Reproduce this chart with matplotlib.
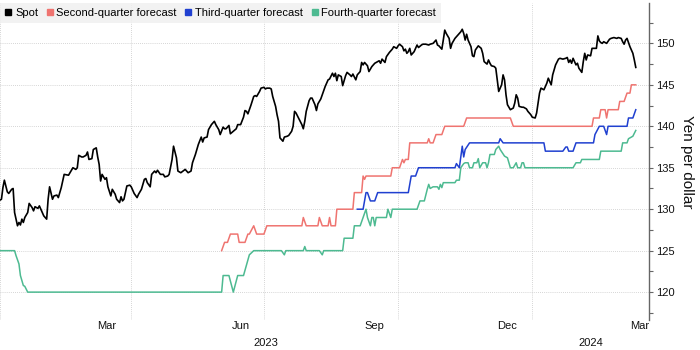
import matplotlib
matplotlib.use("Agg")
import matplotlib.pyplot as plt
import matplotlib.dates as mdates
import matplotlib.transforms as mtransforms
from matplotlib.lines import Line2D
from matplotlib.ticker import MultipleLocator, NullFormatter
import pandas as pd

# ---- USD/JPY spot rate ----
spot_dates = [
    "2023-01-01", "2023-01-02", "2023-01-03", "2023-01-04", "2023-01-06", "2023-01-07", "2023-01-09",
    "2023-01-10", "2023-01-11", "2023-01-13", "2023-01-14", "2023-01-15", "2023-01-16", "2023-01-17",
    "2023-01-18", "2023-01-20", "2023-01-21", "2023-01-23", "2023-01-24", "2023-01-25", "2023-01-27",
    "2023-01-28", "2023-01-29", "2023-01-31", "2023-02-02", "2023-02-03", "2023-02-04", "2023-02-06",
    "2023-02-07", "2023-02-09", "2023-02-10", "2023-02-12", "2023-02-14", "2023-02-17", "2023-02-18",
    "2023-02-20", "2023-02-22", "2023-02-23", "2023-02-24", "2023-02-26", "2023-02-27", "2023-03-01",
    "2023-03-02", "2023-03-03", "2023-03-05", "2023-03-06", "2023-03-08", "2023-03-09", "2023-03-10",
    "2023-03-11", "2023-03-12", "2023-03-14", "2023-03-15", "2023-03-16", "2023-03-18", "2023-03-19",
    "2023-03-21", "2023-03-22", "2023-03-24", "2023-03-25", "2023-03-26", "2023-03-27", "2023-03-29",
    "2023-03-31", "2023-04-01", "2023-04-03", "2023-04-05", "2023-04-06", "2023-04-08", "2023-04-10",
    "2023-04-11", "2023-04-12", "2023-04-14", "2023-04-15", "2023-04-17", "2023-04-18", "2023-04-19",
    "2023-04-21", "2023-04-23", "2023-04-24", "2023-04-26", "2023-04-27", "2023-04-29", "2023-04-30",
    "2023-05-02", "2023-05-03", "2023-05-05", "2023-05-08", "2023-05-10", "2023-05-12", "2023-05-13",
    "2023-05-15", "2023-05-17", "2023-05-19", "2023-05-20", "2023-05-21", "2023-05-23", "2023-05-24",
    "2023-05-26", "2023-05-28", "2023-05-29", "2023-05-31", "2023-06-01", "2023-06-03", "2023-06-04",
    "2023-06-05", "2023-06-07", "2023-06-08", "2023-06-10", "2023-06-12", "2023-06-13", "2023-06-15",
    "2023-06-17", "2023-06-18", "2023-06-19", "2023-06-20", "2023-06-22", "2023-06-24", "2023-06-25",
    "2023-06-26", "2023-06-28", "2023-06-29", "2023-07-01", "2023-07-02", "2023-07-03", "2023-07-05",
    "2023-07-06", "2023-07-07", "2023-07-09", "2023-07-10", "2023-07-11", "2023-07-12", "2023-07-14",
    "2023-07-15", "2023-07-17", "2023-07-18", "2023-07-20", "2023-07-21", "2023-07-22", "2023-07-23",
    "2023-07-25", "2023-07-27", "2023-07-28", "2023-07-29", "2023-07-30", "2023-08-01", "2023-08-02",
    "2023-08-03", "2023-08-05", "2023-08-06", "2023-08-07", "2023-08-09", "2023-08-11", "2023-08-12",
    "2023-08-14", "2023-08-15", "2023-08-17", "2023-08-18", "2023-08-19", "2023-08-20", "2023-08-21",
    "2023-08-23", "2023-08-24", "2023-08-26", "2023-08-27", "2023-08-29", "2023-08-30", "2023-08-31",
    "2023-09-02", "2023-09-03", "2023-09-05", "2023-09-06", "2023-09-07", "2023-09-08", "2023-09-10",
    "2023-09-11", "2023-09-13", "2023-09-15", "2023-09-16", "2023-09-18", "2023-09-19", "2023-09-20",
    "2023-09-22", "2023-09-23", "2023-09-25", "2023-09-27", "2023-09-28", "2023-09-30", "2023-10-01",
    "2023-10-02", "2023-10-04", "2023-10-05", "2023-10-06", "2023-10-07", "2023-10-08", "2023-10-09",
    "2023-10-10", "2023-10-12", "2023-10-14", "2023-10-15", "2023-10-17", "2023-10-18", "2023-10-20",
    "2023-10-22", "2023-10-23", "2023-10-25", "2023-10-27", "2023-10-28", "2023-10-29", "2023-10-31",
    "2023-11-01", "2023-11-02", "2023-11-03", "2023-11-05", "2023-11-06", "2023-11-07", "2023-11-09",
    "2023-11-11", "2023-11-13", "2023-11-14", "2023-11-15", "2023-11-16", "2023-11-17", "2023-11-18",
    "2023-11-20", "2023-11-21", "2023-11-22", "2023-11-23", "2023-11-25", "2023-11-27", "2023-11-28",
    "2023-11-29", "2023-12-01", "2023-12-02", "2023-12-03", "2023-12-04", "2023-12-06", "2023-12-07",
    "2023-12-08", "2023-12-09", "2023-12-11", "2023-12-12", "2023-12-13", "2023-12-14", "2023-12-15",
    "2023-12-17", "2023-12-19", "2023-12-20", "2023-12-21", "2023-12-22", "2023-12-23", "2023-12-25",
    "2023-12-26", "2023-12-28", "2023-12-29", "2023-12-31", "2024-01-01", "2024-01-03", "2024-01-04",
    "2024-01-05", "2024-01-06", "2024-01-07", "2024-01-08", "2024-01-09", "2024-01-11", "2024-01-12",
    "2024-01-13", "2024-01-14", "2024-01-15", "2024-01-17", "2024-01-19", "2024-01-20", "2024-01-22",
    "2024-01-24", "2024-01-25", "2024-01-26", "2024-01-27", "2024-01-28", "2024-01-29", "2024-01-31",
    "2024-02-01", "2024-02-02", "2024-02-04", "2024-02-05", "2024-02-06", "2024-02-07", "2024-02-08",
    "2024-02-10", "2024-02-11", "2024-02-12", "2024-02-14", "2024-02-15", "2024-02-16", "2024-02-17",
    "2024-02-18", "2024-02-19", "2024-02-21", "2024-02-23", "2024-02-24", "2024-02-26", "2024-02-28",
    "2024-02-29", "2024-03-02", "2024-03-03", "2024-03-04", "2024-03-05", "2024-03-06", "2024-03-07",
    "2024-03-08", "2024-03-10", "2024-03-11", "2024-03-12",
]
spot_values = [
    131.1, 131.2, 132.6, 133.5, 132.1, 131.9, 132.4,
    132.5, 129.6, 128.0, 128.4, 128.1, 128.8, 128.4,
    129.0, 129.6, 130.7, 130.2, 129.8, 130.3, 130.1,
    130.4, 130.0, 129.2, 128.8, 131.2, 132.7, 131.2,
    131.6, 131.7, 131.4, 132.6, 134.2, 134.1, 134.4,
    135.0, 134.8, 135.0, 136.5, 136.3, 136.3, 136.5,
    136.9, 136.0, 136.1, 137.2, 137.4, 136.3, 135.4,
    133.4, 134.2, 133.6, 133.8, 132.7, 131.6, 132.4,
    131.8, 131.2, 130.8, 131.5, 131.0, 131.2, 132.8,
    132.9, 132.7, 131.9, 131.4, 131.8, 132.4, 133.6,
    133.7, 133.2, 132.7, 134.2, 134.6, 134.4, 134.7,
    134.2, 134.2, 133.9, 134.0, 134.2, 136.0, 137.6,
    136.2, 134.6, 134.4, 134.8, 134.4, 134.6, 135.6,
    136.6, 137.8, 138.7, 138.1, 138.6, 138.7, 139.6,
    140.2, 140.6, 140.2, 139.6, 139.0, 139.9, 139.7,
    139.7, 140.1, 139.1, 139.4, 139.7, 140.2, 140.2,
    141.1, 141.9, 141.8, 141.5, 142.5, 143.6, 143.7,
    143.6, 144.2, 144.6, 144.7, 144.5, 144.6, 144.6,
    144.5, 143.6, 142.4, 141.4, 140.6, 138.6, 138.2,
    138.7, 138.8, 138.9, 139.4, 140.0, 141.8, 141.6,
    140.9, 140.2, 139.7, 140.6, 141.8, 143.1, 143.4,
    143.4, 142.6, 141.9, 142.7, 143.3, 144.3, 144.8,
    145.6, 145.7, 146.4, 146.0, 146.4, 145.5, 146.2,
    146.0, 144.9, 146.1, 146.5, 146.2, 146.0, 146.3,
    145.6, 146.2, 146.6, 147.7, 147.4, 147.7, 147.3,
    146.6, 147.2, 147.6, 147.7, 147.9, 147.6, 148.1,
    147.7, 148.4, 148.9, 149.3, 149.6, 149.4, 149.7,
    149.9, 149.6, 149.1, 149.3, 148.8, 149.0, 149.4,
    148.6, 149.0, 149.8, 149.5, 149.8, 149.9, 149.9,
    149.8, 149.9, 150.0, 150.4, 149.8, 149.7, 149.3,
    150.4, 151.6, 151.2, 150.6, 149.4, 150.0, 150.6,
    151.0, 151.4, 151.7, 151.2, 150.4, 151.1, 150.4,
    149.6, 148.5, 148.4, 149.2, 149.7, 149.4, 148.8,
    147.8, 147.5, 148.0, 147.6, 147.3, 147.2, 147.0,
    145.6, 144.2, 145.0, 146.2, 145.6, 143.8, 142.6,
    142.0, 142.2, 142.8, 143.8, 143.4, 142.4, 142.3,
    142.3, 142.1, 141.8, 141.4, 141.1, 141.0, 141.6,
    142.8, 144.0, 144.6, 144.5, 144.4, 145.2, 145.8,
    145.4, 145.0, 146.2, 147.4, 148.1, 148.2, 148.1,
    148.2, 148.3, 147.7, 148.0, 147.6, 148.2, 147.4,
    147.6, 147.0, 146.5, 147.8, 148.8, 148.0, 148.6,
    148.5, 149.4, 149.4, 149.4, 150.9, 150.3, 150.1,
    150.0, 150.2, 150.0, 150.5, 150.6, 150.7, 150.6,
    150.7, 150.6, 150.2, 149.9, 150.4, 150.6, 150.1,
    149.6, 148.8, 148.0, 147.1,
]

# ---- Consensus forecast for the second quarter ----
q2_dates = [
    "2023-06-02", "2023-06-04", "2023-06-06", "2023-06-08", "2023-06-13", "2023-06-14", "2023-06-18",
    "2023-06-20", "2023-06-21", "2023-06-24", "2023-06-25", "2023-06-26", "2023-07-01", "2023-07-03",
    "2023-07-27", "2023-07-28", "2023-07-30", "2023-08-07", "2023-08-08", "2023-08-10", "2023-08-14",
    "2023-08-15", "2023-08-16", "2023-08-19", "2023-08-20", "2023-08-31", "2023-09-01", "2023-09-06",
    "2023-09-07", "2023-09-08", "2023-09-09", "2023-09-26", "2023-09-27", "2023-10-02", "2023-10-04",
    "2023-10-05", "2023-10-06", "2023-10-08", "2023-10-09", "2023-10-21", "2023-10-22", "2023-10-23",
    "2023-10-25", "2023-10-27", "2023-10-31", "2023-11-02", "2023-11-15", "2023-11-17", "2023-12-17",
    "2023-12-19", "2024-02-11", "2024-02-12", "2024-02-16", "2024-02-17", "2024-02-20", "2024-02-21",
    "2024-02-22", "2024-02-29", "2024-03-01", "2024-03-04", "2024-03-06", "2024-03-08", "2024-03-09",
    "2024-03-12",
]
q2_values = [
    125.0, 126.0, 126.0, 127.0, 127.0, 126.0, 126.0,
    127.0, 127.0, 128.0, 127.5, 127.0, 127.0, 128.0,
    128.0, 129.0, 128.0, 128.0, 129.0, 128.0, 128.0,
    129.0, 128.0, 128.0, 130.0, 130.0, 132.0, 132.0,
    134.0, 133.6, 134.0, 134.0, 135.0, 135.0, 136.0,
    135.6, 136.0, 136.0, 138.0, 138.0, 138.5, 138.0,
    138.0, 139.0, 139.0, 140.0, 140.0, 141.0, 141.0,
    140.0, 140.0, 141.0, 141.0, 142.0, 142.0, 141.0,
    142.0, 142.0, 143.0, 143.0, 144.0, 144.0, 145.0,
    145.0,
]

# ---- Consensus forecast for the third quarter ----
q3_dates = [
    "2023-09-03", "2023-09-07", "2023-09-09", "2023-09-10", "2023-09-12", "2023-09-15", "2023-09-17",
    "2023-10-08", "2023-10-10", "2023-10-13", "2023-10-15", "2023-11-09", "2023-11-10", "2023-11-12",
    "2023-11-14", "2023-11-15", "2023-11-16", "2023-11-19", "2023-12-09", "2023-12-10", "2023-12-12",
    "2024-01-09", "2024-01-10", "2024-01-22", "2024-01-24", "2024-01-25", "2024-01-26", "2024-01-29",
    "2024-01-31", "2024-02-12", "2024-02-13", "2024-02-16", "2024-02-19", "2024-02-21", "2024-02-22",
    "2024-03-06", "2024-03-07", "2024-03-10", "2024-03-12",
]
q3_values = [
    130.0, 130.0, 132.0, 132.0, 131.0, 131.0, 132.0,
    132.0, 134.0, 134.0, 135.0, 135.0, 135.5, 135.0,
    137.6, 136.3, 137.2, 138.0, 138.0, 138.5, 138.0,
    138.0, 137.0, 137.0, 137.5, 137.5, 137.0, 137.0,
    138.0, 138.0, 139.0, 140.0, 140.0, 139.0, 140.0,
    140.0, 141.0, 141.0, 142.0,
]

# ---- Consensus forecast for the fourth quarter ----
q4_dates = [
    "2023-01-01", "2023-01-11", "2023-01-12", "2023-01-14", "2023-01-15", "2023-01-17", "2023-01-18",
    "2023-01-20", "2023-06-02", "2023-06-03", "2023-06-07", "2023-06-10", "2023-06-13", "2023-06-17",
    "2023-06-21", "2023-06-24", "2023-07-13", "2023-07-15", "2023-07-16", "2023-07-28", "2023-07-29",
    "2023-07-30", "2023-08-08", "2023-08-10", "2023-08-11", "2023-08-24", "2023-08-25", "2023-08-31",
    "2023-09-01", "2023-09-05", "2023-09-07", "2023-09-09", "2023-09-10", "2023-09-12", "2023-09-13",
    "2023-09-14", "2023-09-15", "2023-09-16", "2023-09-23", "2023-09-24", "2023-09-26", "2023-09-27",
    "2023-10-14", "2023-10-16", "2023-10-19", "2023-10-21", "2023-10-22", "2023-10-23", "2023-10-25",
    "2023-10-28", "2023-10-29", "2023-10-30", "2023-10-31", "2023-11-01", "2023-11-09", "2023-11-10",
    "2023-11-12", "2023-11-13", "2023-11-15", "2023-11-16", "2023-11-18", "2023-11-19", "2023-11-21",
    "2023-11-22", "2023-11-24", "2023-11-25", "2023-11-26", "2023-11-28", "2023-11-30", "2023-12-01",
    "2023-12-02", "2023-12-03", "2023-12-06", "2023-12-07", "2023-12-09", "2023-12-10", "2023-12-13",
    "2023-12-15", "2023-12-16", "2023-12-17", "2023-12-19", "2023-12-21", "2023-12-22", "2023-12-24",
    "2023-12-25", "2023-12-26", "2023-12-27", "2024-01-29", "2024-01-31", "2024-02-03", "2024-02-04",
    "2024-02-16", "2024-02-17", "2024-03-02", "2024-03-03", "2024-03-06", "2024-03-07", "2024-03-10",
    "2024-03-12",
]
q4_values = [
    125.0, 125.0, 124.4, 123.4, 122.0, 120.8, 120.7,
    120.0, 120.0, 122.0, 122.0, 120.0, 122.0, 122.0,
    124.5, 125.0, 125.0, 124.5, 125.0, 125.0, 125.5,
    125.0, 125.0, 124.5, 125.0, 125.0, 126.5, 126.5,
    128.0, 128.0, 129.0, 130.0, 129.0, 128.0, 129.0,
    129.0, 128.0, 129.0, 129.0, 130.0, 129.0, 130.0,
    130.0, 131.0, 131.0, 132.4, 133.0, 132.5, 132.7,
    132.7, 132.4, 133.0, 132.6, 133.2, 133.2, 133.5,
    133.5, 135.0, 135.5, 135.6, 135.6, 135.0, 135.0,
    135.6, 135.6, 136.1, 135.0, 135.6, 135.6, 135.0,
    135.6, 136.6, 136.6, 137.2, 137.6, 137.2, 136.4,
    136.2, 135.6, 135.0, 135.0, 135.6, 135.0, 135.0,
    135.6, 135.6, 135.0, 135.0, 135.6, 135.6, 136.0,
    136.0, 137.0, 137.0, 138.0, 138.0, 138.5, 138.8,
    139.5,
]

series_labels = ["Spot", "Second-quarter forecast", "Third-quarter forecast", "Fourth-quarter forecast"]
series_colors = ["#000000", "#ef7470", "#2040d0", "#4dba91"]
y_ticks = [120, 125, 130, 135, 140, 145, 150]
year_labels = ["2023", "2024"]

FONT = ["Liberation Sans", "DejaVu Sans"]
plt.rcParams["font.family"] = FONT

fig = plt.figure(figsize=(7, 3.5), dpi=100)
ax = fig.add_axes([0.0, 0.086, 0.927, 0.905])

to_dt = pd.to_datetime
ax.plot(to_dt(q4_dates), q4_values, color=series_colors[3], lw=1.1, zorder=3)
ax.plot(to_dt(q3_dates), q3_values, color=series_colors[2], lw=1.1, zorder=4)
ax.plot(to_dt(q2_dates), q2_values, color=series_colors[1], lw=1.1, zorder=5)
ax.plot(to_dt(spot_dates), spot_values, color=series_colors[0], lw=1.2, zorder=6)

x_start = pd.Timestamp("2023-01-01")
x_end = pd.Timestamp("2024-03-21")
ax.set_xlim(x_start, x_end)
ax.set_ylim(116.65, 154.85)

# y axis on the right
ax.yaxis.tick_right()
ax.yaxis.set_label_position("right")
ax.set_yticks(y_ticks)
ax.yaxis.set_minor_locator(MultipleLocator(2.5))
for side in ["top", "left", "bottom"]:
    ax.spines[side].set_visible(False)
ax.spines["right"].set_color("#666666")
ax.spines["right"].set_linewidth(1.0)
ax.tick_params(axis="y", which="both", direction="out", length=3, width=0.8,
               color="#666666", labelsize=8, pad=2, labelcolor="#111111")
ax.set_ylabel("Yen per dollar", rotation=270, fontsize=11, labelpad=14, color="#111111")

# x axis: gridlines at quarter starts, month names mid-month
ax.xaxis.set_major_locator(mdates.MonthLocator(bymonth=[1, 4, 7, 10]))
ax.xaxis.set_major_formatter(NullFormatter())
ax.xaxis.set_minor_locator(mdates.MonthLocator(bymonth=[3, 6, 9, 12], bymonthday=15))
ax.xaxis.set_minor_formatter(mdates.DateFormatter("%b"))
ax.tick_params(axis="x", which="both", length=0, labelsize=8, pad=1, labelcolor="#111111")

grid_style = dict(color="#c8c8c8", linestyle=(0, (1, 1.5)), linewidth=0.6)
ax.grid(axis="y", which="major", **grid_style)
ax.grid(axis="x", which="major", **grid_style)
ax.set_axisbelow(True)

# year labels centred under each year's span
trans = mtransforms.blended_transform_factory(ax.transData, ax.transAxes)
year_bounds = [(x_start, pd.Timestamp("2024-01-01")), (pd.Timestamp("2024-01-01"), x_end)]
for label, (a, b) in zip(year_labels, year_bounds):
    ax.text(a + (b - a) / 2, -0.072, label, transform=trans, ha="center", va="center",
            fontsize=8, color="#111111")

handles = [Line2D([], [], marker="s", linestyle="none", color=c, markersize=5) for c in series_colors]
leg = ax.legend(handles, series_labels, loc="upper left", bbox_to_anchor=(0.0, 1.0), ncol=4,
                fontsize=8, frameon=True, fancybox=False, facecolor="#f0f0f0", edgecolor="none",
                framealpha=0.85, handlelength=0.6, handletextpad=0.3, columnspacing=0.75,
                borderpad=0.45, borderaxespad=0.0)
leg.set_zorder(10)

fig.savefig("out.png", dpi=100)
